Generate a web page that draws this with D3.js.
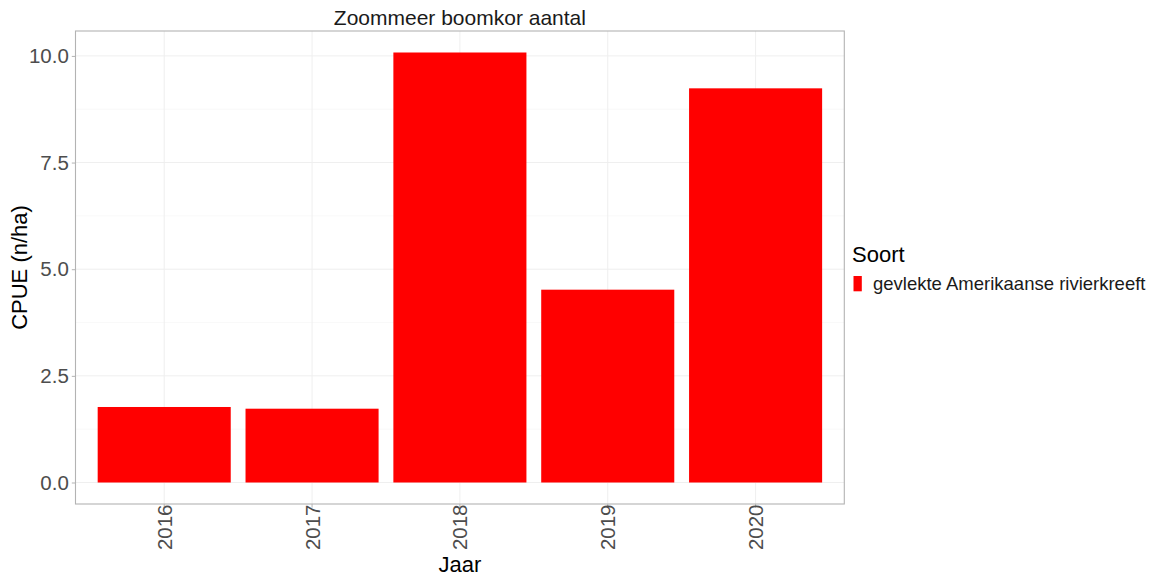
<!DOCTYPE html>
<html>
<head>
<meta charset="utf-8">
<script src="https://cdn.jsdelivr.net/npm/d3@7"></script>
<style>
  html, body { margin: 0; padding: 0; background: #fff; }
  svg { display: block; font-family: "Liberation Sans", Arial, sans-serif; }
</style>
</head>
<body>
<svg id="chart" width="1156" height="579"></svg>
<script>
const years = ["2016", "2017", "2018", "2019", "2020"];
const cpue = [1.77, 1.73, 10.08, 4.52, 9.24];
const yTicks = [0, 2.5, 5, 7.5, 10];
const yMinor = [1.25, 3.75, 6.25, 8.75];
const species = ["gevlekte Amerikaanse rivierkreeft"];
const title = "Zoommeer boomkor aantal";

const svg = d3.select("#chart");
const panel = { left: 75.5, right: 844.3, top: 31, bottom: 504 };

const maxV = d3.max(cpue);
const x = d3.scaleBand().domain(years).range([panel.left, panel.right])
  .paddingInner(0.1).paddingOuter(0.15);
const y = d3.scaleLinear().domain([-0.05 * maxV, maxV * 1.05]).range([panel.bottom, panel.top]);
const color = d3.scaleOrdinal().domain(species).range(["#ff0000"]);

// gridlines
const grid = svg.append("g");
grid.selectAll("line.minor").data(yMinor).join("line")
  .attr("x1", panel.left).attr("x2", panel.right)
  .attr("y1", d => y(d)).attr("y2", d => y(d))
  .attr("stroke", "#f5f5f5").attr("stroke-width", 0.6);
grid.selectAll("line.majy").data(yTicks).join("line")
  .attr("x1", panel.left).attr("x2", panel.right)
  .attr("y1", d => y(d)).attr("y2", d => y(d))
  .attr("stroke", "#efefef").attr("stroke-width", 1);
grid.selectAll("line.majx").data(years).join("line")
  .attr("x1", d => x(d) + x.bandwidth() / 2).attr("x2", d => x(d) + x.bandwidth() / 2)
  .attr("y1", panel.top).attr("y2", panel.bottom)
  .attr("stroke", "#efefef").attr("stroke-width", 1);

// bars
svg.append("g").selectAll("rect").data(years).join("rect")
  .attr("x", d => x(d))
  .attr("width", x.bandwidth())
  .attr("y", (d, i) => y(cpue[i]))
  .attr("height", (d, i) => y(0) - y(cpue[i]))
  .attr("fill", color(species[0]));

// panel border
svg.append("rect")
  .attr("x", panel.left).attr("y", panel.top)
  .attr("width", panel.right - panel.left).attr("height", panel.bottom - panel.top)
  .attr("fill", "none").attr("stroke", "#b3b3b3").attr("stroke-width", 1.1);

// y axis
const yAxis = d3.axisLeft(y).tickValues(yTicks).tickFormat(d3.format(".1f")).tickSize(3.7).tickPadding(3);
const ya = svg.append("g").attr("transform", `translate(${panel.left},0)`).call(yAxis);
ya.select(".domain").remove();
ya.selectAll(".tick line").attr("stroke", "#b3b3b3");
ya.selectAll(".tick text").attr("fill", "#4d4d4d").attr("font-size", "20.5px")
  .attr("font-family", "Liberation Sans, Arial, sans-serif");

// x axis
const xAxis = d3.axisBottom(x).tickSize(3.7).tickPadding(3);
const xa = svg.append("g").attr("transform", `translate(0,${panel.bottom})`).call(xAxis);
xa.select(".domain").remove();
xa.selectAll(".tick line").attr("stroke", "#b3b3b3");
xa.selectAll(".tick text")
  .attr("fill", "#4d4d4d").attr("font-size", "20.5px")
  .attr("font-family", "Liberation Sans, Arial, sans-serif")
  .attr("text-anchor", "end")
  .attr("dy", null)
  .attr("transform", "translate(7.5,0.5) rotate(-90)")
  .attr("x", 0).attr("y", 0);

// title
svg.append("text").attr("x", (panel.left + panel.right) / 2).attr("y", 25)
  .attr("text-anchor", "middle").attr("font-size", "21px").attr("fill", "#1a1a1a")
  .text(title);

// axis titles
svg.append("text").attr("x", (panel.left + panel.right) / 2).attr("y", 572)
  .attr("text-anchor", "middle").attr("font-size", "22px").attr("fill", "#000")
  .text("Jaar");
svg.append("text")
  .attr("transform", `translate(27,${(panel.top + panel.bottom) / 2}) rotate(-90)`)
  .attr("text-anchor", "middle").attr("font-size", "22px").attr("fill", "#000")
  .text("CPUE (n/ha)");

// legend
const lg = svg.append("g");
lg.append("text").attr("x", 852).attr("y", 262).attr("font-size", "22px").attr("fill", "#000").text("Soort");
lg.selectAll("rect").data(species).join("rect")
  .attr("x", 853.5).attr("y", 276).attr("width", 8.3).attr("height", 15.3)
  .attr("fill", d => color(d));
lg.selectAll("text.lab").data(species).join("text").attr("class", "lab")
  .attr("x", 873).attr("y", 290).attr("font-size", "18.5px").attr("fill", "#1a1a1a")
  .text(d => d);
</script>
</body>
</html>
